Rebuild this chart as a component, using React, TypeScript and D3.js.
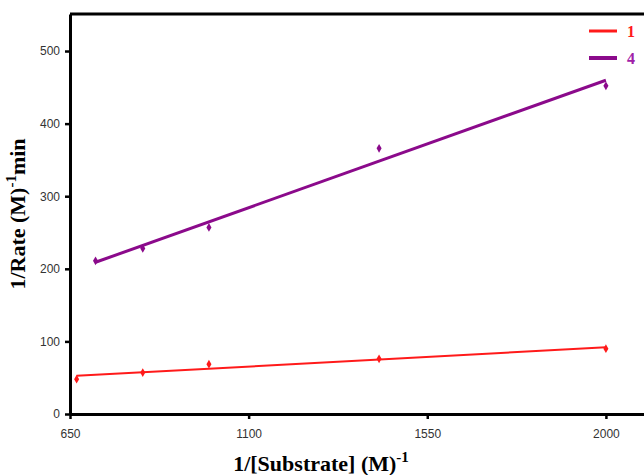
import React, { useEffect, useRef } from "react";
import * as d3 from "d3";

// 1/[S] values (M^-1) for each series
const xSeries1 = [666.7, 833.3, 1000, 1428.6, 2000];
const ySeries1 = [48, 57, 68.6, 76, 90];
const xSeries4 = [714.3, 833.3, 1000, 1428.6, 2000];
const ySeries4 = [211, 228, 257, 366, 452];
const seriesNames = ["1", "4"];
const seriesColors = ["#ff1a1a", "#8b0a8b"];
const legendTextColors = ["#ff1a1a", "#a020a8"];
const xTicks = [650, 1100, 1550, 2000];
const yTicks = [0, 100, 200, 300, 400, 500];

const fit = (xs: number[], ys: number[]) => {
  const mx = d3.mean(xs)!, my = d3.mean(ys)!;
  let sxy = 0, sxx = 0;
  xs.forEach((x, i) => {
    sxy += (x - mx) * (ys[i] - my);
    sxx += (x - mx) * (x - mx);
  });
  const b = sxy / sxx;
  return (x: number) => my + b * (x - mx);
};

const App = () => {
  const ref = useRef<SVGSVGElement>(null);

  useEffect(() => {
    const width = 644, height = 475;
    const svg = d3.select(ref.current).attr("width", width).attr("height", height);
    svg.selectAll("*").remove();

    const x = d3.scaleLinear().domain([650, 2100]).range([70, 645.6]);
    const y = d3.scaleLinear().domain([0, 551]).range([414, 14]);

    const series = [
      { xs: xSeries1, ys: ySeries1, w: 2 },
      { xs: xSeries4, ys: ySeries4, w: 3 },
    ];

    // frame top
    svg.append("line")
      .attr("x1", 70).attr("x2", width).attr("y1", 14).attr("y2", 14)
      .attr("stroke", "#000").attr("stroke-width", 3);

    // axes
    const xAxis = svg.append("g").attr("transform", "translate(0,414)")
      .call(d3.axisBottom(x).tickValues(xTicks).tickFormat(d3.format("d")).tickSize(5).tickPadding(10).tickSizeOuter(0));
    const yAxis = svg.append("g").attr("transform", "translate(70,0)")
      .call(d3.axisLeft(y).tickValues(yTicks).tickFormat(d3.format("d")).tickSize(5).tickPadding(5).tickSizeOuter(0));
    [xAxis, yAxis].forEach((a) => {
      a.select(".domain").attr("stroke", "#000").attr("stroke-width", 3);
      a.selectAll(".tick line").attr("stroke", "#000").attr("stroke-width", 2.5);
      a.selectAll(".tick text")
        .attr("fill", "#333")
        .style("font-family", "'Liberation Sans', Arial, sans-serif")
        .style("font-size", "12px");
    });

    series.forEach((s, i) => {
      const f = fit(s.xs, s.ys);
      const x0 = d3.min(s.xs)!, x1 = d3.max(s.xs)!;
      svg.append("line")
        .attr("x1", x(x0)).attr("y1", y(f(x0)))
        .attr("x2", x(x1)).attr("y2", y(f(x1)))
        .attr("stroke", seriesColors[i]).attr("stroke-width", s.w);
      svg.append("g").selectAll("path")
        .data(s.xs.map((v, j) => [v, s.ys[j]]))
        .enter()
        .append("path")
        .attr("d", d3.symbol(d3.symbolDiamond, 22)())
        .attr("transform", (d) => `translate(${x(d[0])},${y(d[1])})`)
        .attr("fill", seriesColors[i]);

      // legend
      const ly = 31 + i * 27;
      svg.append("line")
        .attr("x1", 589).attr("x2", 617).attr("y1", ly).attr("y2", ly)
        .attr("stroke", seriesColors[i]).attr("stroke-width", 3 + i);
      svg.append("text")
        .attr("x", 627).attr("y", ly + 6)
        .attr("fill", legendTextColors[i])
        .style("font-family", "'Liberation Serif', 'Times New Roman', serif")
        .style("font-weight", "bold")
        .style("font-size", "16px")
        .text(seriesNames[i]);
    });

    // axis titles
    const xt = svg.append("text")
      .attr("x", 321).attr("y", 471)
      .attr("text-anchor", "middle")
      .style("font-family", "'Liberation Serif', 'Times New Roman', serif")
      .style("font-weight", "bold")
      .style("font-size", "22px");
    xt.append("tspan").text("1/[Substrate] (M)");
    xt.append("tspan").attr("dy", -9).style("font-size", "15px").text("-1");

    const yt = svg.append("text")
      .attr("transform", "translate(25,214) rotate(-90)")
      .attr("text-anchor", "middle")
      .style("font-family", "'Liberation Serif', 'Times New Roman', serif")
      .style("font-weight", "bold")
      .style("font-size", "22px");
    yt.append("tspan").text("1/Rate (M)");
    yt.append("tspan").attr("dy", -9).style("font-size", "15px").text("-1");
    yt.append("tspan").attr("dy", 9).text("min");
  }, []);

  return <svg ref={ref} style={{ position: "absolute", left: 0, top: 0 }}></svg>;
};

export default App;
